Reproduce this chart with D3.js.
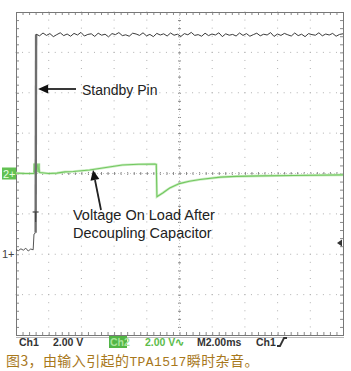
<!DOCTYPE html>
<html>
<head>
<meta charset="utf-8">
<script src="https://cdn.jsdelivr.net/npm/d3@7"></script>
<style>
  body { margin: 0; background: #fff; }
  text { font-family: "Liberation Sans", Arial, sans-serif; }
</style>
</head>
<body>
<div id="container"></div>
<script>
// time in ms (2 ms/div, 10 div), volts (2 V/div)
let ch1Low = [[0, 0.22], [0.15, 0.18], [0.3, 0.27], [0.45, 0.2], [0.6, 0.3], [0.75, 0.16], [0.9, 0.26], [1.05, 0.22], [1.1, 1.0], [1.2, 1.06]]
let ch1Edge = [[1.2, 1.06], [1.23, 10.9]]
let ch1Ripple = [10.90,10.82,10.96,10.84,10.93,10.78,10.88,10.97,10.83,10.91,10.80,10.94,10.86,10.99,10.81,10.89,10.92,10.79,10.95,10.85,
  10.90,10.77,10.93,10.88,10.98,10.83,10.87,10.80,10.95,10.91,10.84,10.97,10.82,10.89,10.78,10.94,10.86,10.92,10.81,10.96,
  10.85,10.90,10.79,10.93,10.87,10.99,10.84,10.88,10.80,10.95,10.83,10.91,10.86,10.97,10.78,10.92,10.85,10.89,10.81,10.96,
  10.84,10.93,10.80,10.88,10.95,10.82,10.90,10.86,10.98,10.79,10.91,10.84,10.94,10.87,10.81,10.96,10.83,10.90,10.78,10.93,
  10.88,10.85,10.97,10.82,10.91,10.86,10.94,10.80,10.89,10.92]

let ch2Time  = [0, 0.6, 1.1, 1.2, 1.3, 1.45, 2.0, 2.5, 3.0, 3.5, 4.5, 5.5, 6.5, 7.5, 8.5, 8.58, 8.62, 9.0, 9.4, 10.0, 10.6, 11.25, 12.5, 13.5, 15, 17, 20]
let ch2Volts = [0.02, 0.0, 0.0, 0.45, 0.4, 0.05, 0.0, 0.02, 0.08, 0.1, 0.17, 0.3, 0.42, 0.46, 0.47, 0.45, -1.15, -0.95, -0.72, -0.5, -0.38, -0.3, -0.18, -0.14, -0.12, -0.1, -0.07]

let ch1Offset = -2   // divisions
let ch2Offset = 0
let voltsPerDiv = 2

let statusLabels = ['Ch1', '2.00 V', 'Ch2', '2.00 V\u223F', 'M2.00ms', 'Ch1']
let captionParts = ['图3，由输入引起的', 'TPA1517', '瞬时杂音。']

let svgWidth = 351
let svgHeight = 371
let plotLeft = 16, plotRight = 343, plotTop = 12, plotBottom = 335

let x = d3.scaleLinear().domain([0, 20]).range([plotLeft, plotRight])
let xDiv = d3.scaleLinear().domain([-5, 5]).range([plotLeft, plotRight])
let yDiv = d3.scaleLinear().domain([-4, 4]).range([plotBottom, plotTop])
let y1 = v => yDiv(v / voltsPerDiv + ch1Offset)
let y2 = v => yDiv(v / voltsPerDiv + ch2Offset)

let svg = d3.select('#container')
  .append('svg')
  .attr('width', svgWidth)
  .attr('height', svgHeight)

svg.append('rect').attr('width', svgWidth).attr('height', svgHeight).attr('fill', '#fff')

// dotted graticule
let minorX = d3.range(-25, 26).map(d => d / 5)
let minorY = d3.range(-20, 21).map(d => d / 5)
let grid = svg.append('g').attr('fill', '#b0b0b0')
d3.range(-4, 5).filter(d => d != 0).forEach(i => {
  grid.selectAll(null).data(minorY).enter().append('rect')
    .attr('x', xDiv(i) - 0.5).attr('y', d => yDiv(d) - 0.5).attr('width', 1).attr('height', 1)
})
d3.range(-3, 4).filter(d => d != 0).forEach(j => {
  grid.selectAll(null).data(minorX).enter().append('rect')
    .attr('x', d => xDiv(d) - 0.5).attr('y', yDiv(j) - 0.5).attr('width', 1).attr('height', 1)
})

// center axes with minor ticks
function tickAxis(axis, tr) {
  let g = svg.append('g').attr('transform', tr).call(axis)
  g.select('.domain').remove()
  g.selectAll('text').remove()
  g.selectAll('line').attr('stroke', '#8a8a8a')
}
tickAxis(d3.axisTop(xDiv).tickValues(minorX).tickSize(2).tickFormat(''), 'translate(0,' + (yDiv(0) + 0.5) + ')')
tickAxis(d3.axisBottom(xDiv).tickValues(minorX).tickSize(2).tickFormat(''), 'translate(0,' + (yDiv(0) - 0.5) + ')')
tickAxis(d3.axisLeft(yDiv).tickValues(minorY).tickSize(2).tickFormat(''), 'translate(' + (xDiv(0) + 0.5) + ',0)')
tickAxis(d3.axisRight(yDiv).tickValues(minorY).tickSize(2).tickFormat(''), 'translate(' + (xDiv(0) - 0.5) + ',0)')
svg.append('line').attr('x1', plotLeft).attr('x2', plotRight).attr('y1', yDiv(0)).attr('y2', yDiv(0))
  .attr('stroke', '#c8c8c8').attr('stroke-dasharray', '1,2')
svg.append('line').attr('x1', xDiv(0)).attr('x2', xDiv(0)).attr('y1', plotTop).attr('y2', plotBottom)
  .attr('stroke', '#c8c8c8').attr('stroke-dasharray', '1,2')

// edge ticks
tickAxis(d3.axisBottom(xDiv).tickValues(minorX).tickSize(3).tickFormat(''), 'translate(0,' + plotTop + ')')
tickAxis(d3.axisTop(xDiv).tickValues(minorX).tickSize(3).tickFormat(''), 'translate(0,' + plotBottom + ')')
tickAxis(d3.axisRight(yDiv).tickValues(minorY).tickSize(3).tickFormat(''), 'translate(' + plotLeft + ',0)')
tickAxis(d3.axisLeft(yDiv).tickValues(minorY).tickSize(3).tickFormat(''), 'translate(' + plotRight + ',0)')

svg.append('rect')
  .attr('x', plotLeft + 0.5).attr('y', plotTop + 0.5)
  .attr('width', plotRight - plotLeft).attr('height', plotBottom - plotTop)
  .attr('fill', 'none').attr('stroke', '#777')
  .attr('stroke-width', 1)
svg.append('line').attr('x1', plotLeft).attr('x2', plotRight + 1).attr('y1', plotBottom + 2.5).attr('y2', plotBottom + 2.5)
  .attr('stroke', '#bbb')

// channel 2 trace (green)
let ch2 = ch2Time.map((t, i) => [t, ch2Volts[i]])
let line2 = d3.line().x(d => x(d[0])).y(d => y2(d[1]))
svg.append('path').datum(ch2).attr('d', line2)
  .attr('fill', 'none').attr('stroke', '#cdeec4').attr('stroke-width', 2.6)
svg.append('path').datum(ch2).attr('d', line2)
  .attr('fill', 'none').attr('stroke', '#72c760').attr('stroke-width', 1.1)
svg.append('rect')
  .attr('x', x(1.05)).attr('y', y2(0.5)).attr('width', 7).attr('height', 9)
  .attr('fill', '#7ccd6c').attr('opacity', 0.85)

// channel 1 trace
let t0 = 1.23, t1 = 20
let ch1High = ch1Ripple.map((v, i) => [t0 + (t1 - t0) * i / (ch1Ripple.length - 1), v])
let line1 = d3.line().x(d => x(d[0])).y(d => y1(d[1]))
svg.append('path').datum(ch1Low).attr('d', line1)
  .attr('fill', 'none').attr('stroke', '#555').attr('stroke-width', 1)
svg.append('path').datum(ch1Edge).attr('d', line1)
  .attr('fill', 'none').attr('stroke', '#6e6e6e').attr('stroke-width', 2.4)
svg.append('path').datum(ch1High).attr('d', line1)
  .attr('fill', 'none').attr('stroke', '#3a3a3a').attr('stroke-width', 1)

// trigger marker T
let tg = svg.append('g').attr('stroke', '#444').attr('stroke-width', 1.2)
tg.append('line').attr('x1', x(1.2) - 3).attr('x2', x(1.2) + 3).attr('y1', 212).attr('y2', 212)
tg.append('line').attr('x1', x(1.2)).attr('x2', x(1.2)).attr('y1', 212).attr('y2', 222)
// trigger level arrow at right
svg.append('path').attr('d', 'M337,243 L342,239.5 L342,246.5 Z').attr('fill', '#333')

// ground markers
svg.append('text').attr('x', 2).attr('y', y1(0) + 4).attr('font-size', 11).attr('fill', '#444').text('1+')
svg.append('rect').attr('x', 2).attr('y', y2(0) - 6).attr('width', 14).attr('height', 12).attr('fill', '#62c152')
svg.append('text').attr('x', 3).attr('y', y2(0) + 4).attr('font-size', 11).attr('fill', '#e9ffe2').text('2+')

// annotations
function arrowHead(tipX, tipY, angle) {
  svg.append('path')
    .attr('d', 'M0,0 L10,-4.5 L10,4.5 Z')
    .attr('transform', 'translate(' + tipX + ',' + tipY + ') rotate(' + angle + ')')
    .attr('fill', '#111')
}
svg.append('line').attr('x1', 76).attr('x2', 46).attr('y1', 89).attr('y2', 89).attr('stroke', '#222').attr('stroke-width', 1.8)
arrowHead(x(1.23) + 2, 89, 0)
svg.append('text').attr('x', 82).attr('y', 95).attr('font-size', 14).attr('fill', '#222').text('Standby Pin')

svg.append('line').attr('x1', 101).attr('x2', 95).attr('y1', 210).attr('y2', 180).attr('stroke', '#222').attr('stroke-width', 1.8)
arrowHead(93, 170, 79)
svg.append('text').attr('x', 73).attr('y', 220).attr('font-size', 14.5).attr('fill', '#222').text('Voltage On Load After')
svg.append('text').attr('x', 73).attr('y', 238).attr('font-size', 14.5).attr('fill', '#222').text('Decoupling Capacitor')

// status line
let sy = 346
let status = svg.append('g').attr('font-size', 10.5).attr('font-weight', 'bold')
status.append('text').attr('x', 19).attr('y', sy).attr('fill', '#333').text(statusLabels[0])
status.append('text').attr('x', 53).attr('y', sy).attr('fill', '#333').text(statusLabels[1])
status.append('rect').attr('x', 109).attr('y', 336).attr('width', 18).attr('height', 12).attr('fill', '#52b545')
status.append('text').attr('x', 110).attr('y', sy).attr('fill', '#a8e39a').text(statusLabels[2])
status.append('text').attr('x', 145).attr('y', sy).attr('fill', '#5cbc4c').text(statusLabels[3])
status.append('text').attr('x', 197).attr('y', sy).attr('fill', '#333').text(statusLabels[4])
status.append('text').attr('x', 256).attr('y', sy).attr('fill', '#333').text(statusLabels[5])
svg.append('path').attr('d', 'M277,346 L280,346 L284,338 L287,338')
  .attr('fill', 'none').attr('stroke', '#333').attr('stroke-width', 1.8)

// caption
let cap = svg.append('text').attr('x', 6).attr('y', 366)
  .attr('font-size', 14).attr('fill', '#a8781c').attr('letter-spacing', 0.4)
  .style('font-family', '"Noto Sans CJK SC", sans-serif')
cap.append('tspan').text(captionParts[0])
cap.append('tspan').style('font-family', '"Liberation Mono", monospace').attr('font-size', 13).text(captionParts[1])
cap.append('tspan').text(captionParts[2])
</script>
</body>
</html>
